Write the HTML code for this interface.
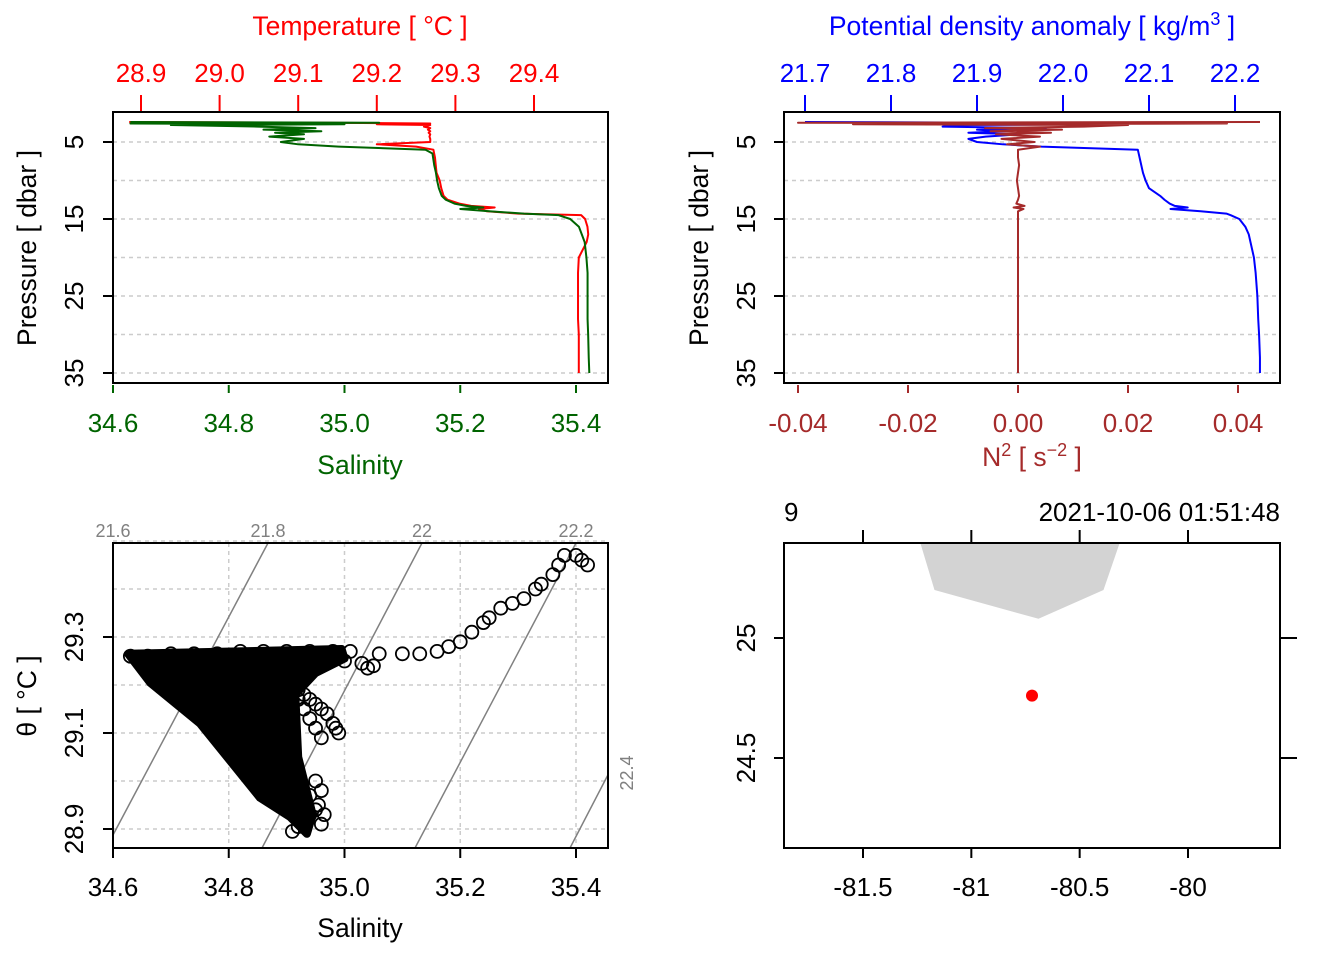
<!DOCTYPE html>
<html><head><meta charset="utf-8"><style>
html,body{margin:0;padding:0;background:#fff;}
svg{display:block;font-family:"Liberation Sans",sans-serif;}
</style></head><body>
<svg id="chart" width="1344" height="960" viewBox="0 0 1344 960" xmlns="http://www.w3.org/2000/svg">
<g id="p1"></g>
<g id="p2"></g>
<g id="p3"></g>
<g id="p4"></g>
</svg>
<script>
// Profile data
const pressure = [2.4,2.5,2.6,2.7,2.8,3.0,3.2,3.4,3.6,3.8,4.0,4.3,4.6,5.0,5.3,5.6,6.0,6.5,7,8,9,10,11,12,12.5,13,13.3,13.5,13.7,14,14.3,14.5,15,16,17,18,20,22,25,28,30,33,35];
const salinity = [34.63,35.06,34.63,35.0,34.70,34.85,34.95,34.86,34.96,34.88,34.93,34.87,34.93,34.89,34.92,34.99,35.14,35.152,35.153,35.155,35.158,35.16,35.163,35.168,35.175,35.19,35.21,35.24,35.20,35.25,35.31,35.37,35.39,35.405,35.41,35.415,35.418,35.42,35.42,35.42,35.421,35.422,35.423];
const temperature = [28.885,29.13,29.268,29.20,29.268,29.26,29.268,29.265,29.268,29.266,29.268,29.267,29.268,29.268,29.20,29.25,29.272,29.273,29.274,29.275,29.276,29.28,29.282,29.285,29.29,29.305,29.32,29.35,29.33,29.34,29.38,29.46,29.465,29.468,29.469,29.467,29.457,29.456,29.456,29.456,29.457,29.457,29.457];
const sigmaTheta = [21.70,21.93,21.86,22.02,21.88,21.86,21.98,21.90,21.93,21.89,21.95,21.91,21.89,21.90,21.93,21.975,22.087,22.088,22.089,22.091,22.093,22.096,22.10,22.113,22.118,22.124,22.13,22.145,22.125,22.16,22.19,22.195,22.205,22.212,22.216,22.218,22.222,22.224,22.226,22.227,22.228,22.229,22.229];
const n2 = [0.044,-0.04,0.038,-0.03,0.02,0.012,-0.006,0.008,-0.005,0.006,-0.004,0.004,-0.003,0.003,-0.002,0.004,0.0,0.0,0.0,0.0002,0.0,-0.0002,0.0,0.0002,0.0,-0.0003,0.0012,-0.0008,0.001,0.0,0.0,0.0,0.0,0.0,0.0,0.0,0.0,0.0,0.0,0.0,0.0,0.0,0.0];
const salTicks = [34.6,34.8,35.0,35.2,35.4];
const tempTicks = [28.9,29.0,29.1,29.2,29.3,29.4];
const presTicks = [5,15,25,35];
const sigTicks = [21.7,21.8,21.9,22.0,22.1,22.2];
const n2Ticks = [-0.04,-0.02,0.00,0.02,0.04];
// TS data
const tsBlobS = [34.626,34.995,35.0,34.95,34.915,34.92,34.945,34.935,34.906,34.854,34.750,34.664];
const tsBlobT = [29.265,29.275,29.255,29.225,29.18,29.05,28.93,28.89,28.925,28.965,29.12,29.205];
const tsS = [34.63,34.66,34.70,34.74,34.78,34.82,34.86,34.90,34.94,34.98,35.01,34.68,34.72,34.76,34.80,34.83,34.86,34.89,34.92,34.94,34.96,34.90,34.91,34.92,34.93,34.94,34.95,34.96,34.97,34.98,34.985,34.99,34.92,34.93,34.94,34.95,34.96,35.0,35.03,35.05,35.04,34.95,34.96,34.955,34.965,34.93,34.92,34.91,34.95,34.94,35.06,35.10,35.13,35.16,35.18,35.20,35.22,35.24,35.25,35.27,35.29,35.31,35.33,35.34,35.36,35.37,35.38,35.40,35.41,35.42];
const tsT = [29.26,29.26,29.265,29.265,29.265,29.27,29.27,29.27,29.27,29.27,29.27,29.23,29.19,29.15,29.11,29.08,29.04,29.00,28.96,28.93,28.91,29.21,29.20,29.19,29.18,29.17,29.16,29.15,29.14,29.12,29.11,29.10,29.17,29.15,29.13,29.11,29.09,29.25,29.245,29.24,29.235,29.00,28.98,28.95,28.93,28.92,28.905,28.895,28.94,28.97,29.265,29.265,29.265,29.27,29.28,29.29,29.31,29.33,29.34,29.36,29.37,29.38,29.40,29.41,29.43,29.45,29.47,29.47,29.46,29.45];
const thetaTicks = [28.9,29.1,29.3];
const sigmaContours = ["21.6","21.8","22","22.2","22.4"];
// Map data
const lonTicks = [-81.5,-81,-80.5,-80];
const latTicks = [25,24.5];
const stationLon = [-80.72];
const stationLat = [24.76];
const landLon = [-81.24,-80.31,-80.39,-80.69,-81.17];
const landLat = [25.41,25.41,25.20,25.08,25.20];

const FT=26, FL=26.5;
const NS='http://www.w3.org/2000/svg';
function mk(parent,tag,attrs,text){const e=document.createElementNS(NS,tag);for(const k in attrs)e.setAttribute(k,attrs[k]);if(text!==undefined)e.textContent=text;parent.appendChild(e);return e;}
const lin=(d0,d1,r0,r1)=>v=>r0+(v-d0)*(r1-r0)/(d1-d0);

// ---------- Panel 1
const p1=document.getElementById('p1');
const sx=lin(34.6,35.4,113,576), tx=lin(28.9,29.4,141,534), py=lin(5,35,142,373);
for(let p=5;p<=35;p+=5){const l=mk(p1,'line',{x1:113,x2:608,y1:py(p),y2:py(p),stroke:'#ccc','stroke-dasharray':'4,4','stroke-width':1.5});
}
function polyline(g,xs,ys,xf,yf,col,name,w){const pts=xs.map((v,i)=>xf(v)+','+yf(ys[i])).join(' ');const e=mk(g,'polyline',{points:pts,fill:'none',stroke:col,'stroke-width':w||2,'stroke-linejoin':'round'});
return e;}
polyline(p1,temperature,pressure,tx,py,'#ff0000','temperature-profile-line');
polyline(p1,salinity,pressure,sx,py,'#006400','salinity-profile-line');
let e=mk(p1,'rect',{x:113,y:112,width:495,height:271,fill:'none',stroke:'#000','stroke-width':2});

salTicks.forEach(v=>{mk(p1,'line',{x1:sx(v),x2:sx(v),y1:385,y2:393,stroke:'#006400','stroke-width':2});
 e=mk(p1,'text',{x:sx(v),y:432,'text-anchor':'middle','font-size':FT,fill:'#006400'},v.toFixed(1));
 });
tempTicks.forEach(v=>{mk(p1,'line',{x1:tx(v),x2:tx(v),y1:111,y2:95,stroke:'#ff0000','stroke-width':2});
 e=mk(p1,'text',{x:tx(v),y:82,'text-anchor':'middle','font-size':FT,fill:'#ff0000'},v.toFixed(1));
 });
e=mk(p1,'text',{x:360,y:474,'text-anchor':'middle','font-size':FL,fill:'#006400'},'Salinity');

e=mk(p1,'text',{x:360,y:35,'text-anchor':'middle','font-size':FL,fill:'#ff0000'},'Temperature [ °C ]');

function presAxis(g,x0,xl,yf){presTicks.forEach(v=>{mk(g,'line',{x1:xl,x2:xl-10,y1:yf(v),y2:yf(v),stroke:'#000','stroke-width':2});
 e=mk(g,'text',{x:0,y:0,transform:`translate(${x0},${yf(v)}) rotate(-90)`,'text-anchor':'middle','font-size':FT},String(v));
 });
 e=mk(g,'text',{x:0,y:0,transform:`translate(${x0-47},248) rotate(-90)`,'text-anchor':'middle','font-size':FL},'Pressure [ dbar ]');
 }
presAxis(p1,83,113,py);

// ---------- Panel 2
const p2=document.getElementById('p2');
const gx=lin(21.7,22.2,805,1235), nx=lin(-0.04,0.04,798,1238);
for(let p=5;p<=35;p+=5){const l=mk(p2,'line',{x1:784,x2:1280,y1:py(p),y2:py(p),stroke:'#ccc','stroke-dasharray':'4,4','stroke-width':1.5});
}
polyline(p2,sigmaTheta,pressure,gx,py,'#0000ff','density-profile-line');
polyline(p2,n2,pressure,nx,py,'#a52a2a','n2-profile-line');
e=mk(p2,'rect',{x:784,y:112,width:496,height:271,fill:'none',stroke:'#000','stroke-width':2});

n2Ticks.forEach(v=>{mk(p2,'line',{x1:nx(v),x2:nx(v),y1:385,y2:393,stroke:'#a52a2a','stroke-width':2});
 e=mk(p2,'text',{x:nx(v),y:432,'text-anchor':'middle','font-size':FT,fill:'#a52a2a'},v.toFixed(2));
 });
sigTicks.forEach(v=>{mk(p2,'line',{x1:gx(v),x2:gx(v),y1:111,y2:95,stroke:'#0000ff','stroke-width':2});
 e=mk(p2,'text',{x:gx(v),y:82,'text-anchor':'middle','font-size':FT,fill:'#0000ff'},v.toFixed(1));
 });
e=mk(p2,'text',{x:1032,y:466,'text-anchor':'middle','font-size':FL,fill:'#a52a2a'});
e.innerHTML='N<tspan dy="-10" font-size="18">2</tspan><tspan dy="10"> [ s</tspan><tspan dy="-10" font-size="18">−2</tspan><tspan dy="10"> ]</tspan>';

e=mk(p2,'text',{x:1032,y:35,'text-anchor':'middle','font-size':FL,fill:'#0000ff'});
e.innerHTML='Potential density anomaly [ kg/m<tspan dy="-10" font-size="18">3</tspan><tspan dy="10"> ]</tspan>';

presAxis(p2,755,784,py);

// ---------- Panel 3
const p3=document.getElementById('p3');
const ty=lin(28.9,29.3,829,637);
salTicks.forEach(v=>{const l=mk(p3,'line',{x1:sx(v),x2:sx(v),y1:543,y2:848,stroke:'#ccc','stroke-dasharray':'4,4','stroke-width':1.5});
});
for(let t=28.9;t<29.55;t+=0.1){const l=mk(p3,'line',{x1:113,x2:608,y1:ty(t),y2:ty(t),stroke:'#ccc','stroke-dasharray':'4,4','stroke-width':1.5});
}
const contourSeg=[[113,543,20,720],[268,543,113,835],[422,543,262,848],[576,543,415,848],[640,713,570,848]];
const cp=mk(p3,'g',{'clip-path':'url(#c3)'});
mk(mk(p3,'clipPath',{id:'c3'}),'rect',{x:113,y:543,width:495,height:305});
contourSeg.forEach((s,i)=>{const l=mk(cp,'line',{x1:s[0],y1:s[1],x2:s[2],y2:s[3],stroke:'#808080','stroke-width':1.5});
});
[[113,'21.6'],[268,'21.8'],[422,'22'],[576,'22.2']].forEach(a=>{e=mk(p3,'text',{x:a[0],y:537,'text-anchor':'middle','font-size':18,fill:'#808080'},a[1]);
});
e=mk(p3,'text',{x:0,y:0,transform:'translate(633,773) rotate(-90)','text-anchor':'middle','font-size':18,fill:'#808080'},'22.4');

e=mk(cp,'polygon',{points:tsBlobS.map((v,i)=>sx(v)+','+ty(tsBlobT[i])).join(' '),fill:'#000',stroke:'#000','stroke-width':8,'stroke-linejoin':'round'});

tsS.forEach((v,i)=>{const c=mk(cp,'circle',{cx:sx(v),cy:ty(tsT[i]),r:6.5,fill:'none',stroke:'#000','stroke-width':1.8});
});
e=mk(p3,'rect',{x:113,y:543,width:495,height:305,fill:'none',stroke:'#000','stroke-width':2});

salTicks.forEach(v=>{mk(p3,'line',{x1:sx(v),x2:sx(v),y1:848,y2:858,stroke:'#000','stroke-width':2});
 e=mk(p3,'text',{x:sx(v),y:896,'text-anchor':'middle','font-size':FT},v.toFixed(1));
 });
thetaTicks.forEach(v=>{mk(p3,'line',{x1:113,x2:103,y1:ty(v),y2:ty(v),stroke:'#000','stroke-width':2});
 e=mk(p3,'text',{x:0,y:0,transform:`translate(83,${ty(v)}) rotate(-90)`,'text-anchor':'middle','font-size':FT},v.toFixed(1));
 });
e=mk(p3,'text',{x:360,y:937,'text-anchor':'middle','font-size':FL},'Salinity');

e=mk(p3,'text',{x:0,y:0,transform:'translate(36,696) rotate(-90)','text-anchor':'middle','font-size':FL},'θ [ °C ]');


// ---------- Panel 4
const p4=document.getElementById('p4');
const mx=lin(-81.5,-80,863,1188), my=lin(25,24.5,638,758);
const mc=mk(p4,'g',{'clip-path':'url(#c4)'});
mk(mk(p4,'clipPath',{id:'c4'}),'rect',{x:784,y:543,width:496,height:305});
e=mk(mc,'polygon',{points:landLon.map((v,i)=>mx(v)+','+my(landLat[i])).join(' '),fill:'#d3d3d3',stroke:'none'});

stationLon.forEach((v,i)=>{const c=mk(p4,'circle',{cx:mx(v),cy:my(stationLat[i]),r:6,fill:'#ff0000'});
});
e=mk(p4,'rect',{x:784,y:543,width:496,height:305,fill:'none',stroke:'#000','stroke-width':2});

lonTicks.forEach(v=>{mk(p4,'line',{x1:mx(v),x2:mx(v),y1:848,y2:858,stroke:'#000','stroke-width':2});
 mk(p4,'line',{x1:mx(v),x2:mx(v),y1:543,y2:530,stroke:'#000','stroke-width':2});
 e=mk(p4,'text',{x:mx(v),y:896,'text-anchor':'middle','font-size':FT},String(v));
 });
latTicks.forEach(v=>{mk(p4,'line',{x1:784,x2:774,y1:my(v),y2:my(v),stroke:'#000','stroke-width':2});
 mk(p4,'line',{x1:1280,x2:1297,y1:my(v),y2:my(v),stroke:'#000','stroke-width':2});
 e=mk(p4,'text',{x:0,y:0,transform:`translate(755,${my(v)}) rotate(-90)`,'text-anchor':'middle','font-size':FT},String(v));
 });
e=mk(p4,'text',{x:784,y:521,'font-size':FT},'9');

e=mk(p4,'text',{x:1280,y:521,'text-anchor':'end','font-size':FT},'2021-10-06 01:51:48');

</script>
</body></html>
